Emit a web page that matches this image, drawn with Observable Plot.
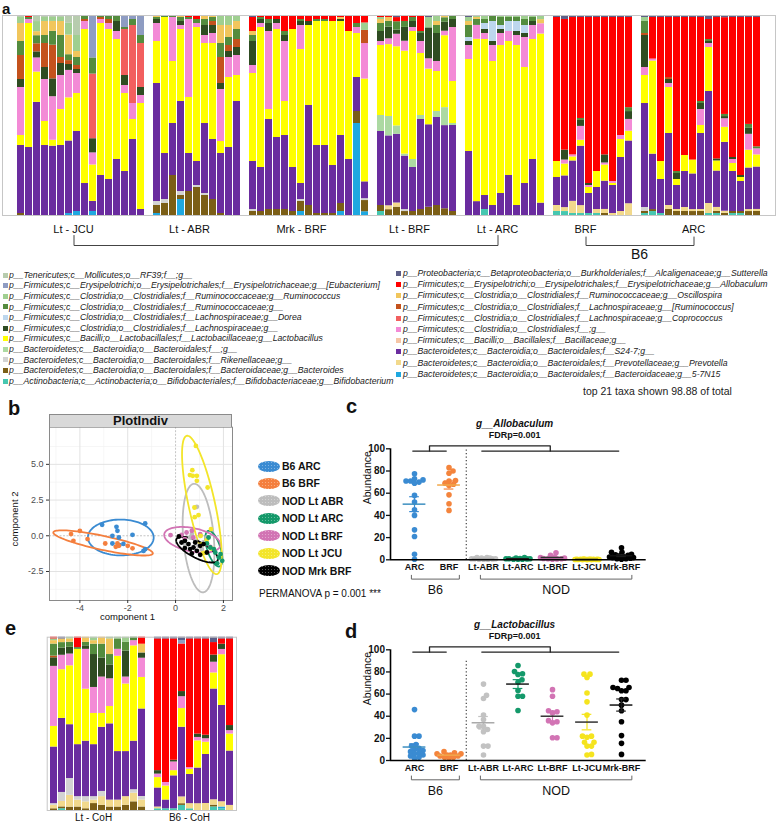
<!DOCTYPE html>
<html><head><meta charset="utf-8">
<script src="https://cdn.jsdelivr.net/npm/d3@7"></script>
<script src="https://cdn.jsdelivr.net/npm/@observablehq/plot@0.6"></script>
<style>
html,body{margin:0;padding:0;background:#fff}
#root{position:relative;width:778px;height:822px;overflow:hidden;font-family:"Liberation Sans",Arial,Helvetica,sans-serif;color:#111}
.layer{position:absolute;left:0;top:0;width:778px;height:822px}
.layer svg{background:transparent!important;overflow:visible}
.t{position:absolute;white-space:nowrap}
.sw{position:absolute}
</style></head><body><div id="root"></div>
<script>
const W = 778, H = 822;
const root = document.getElementById("root");

// ---------------- taxa (stack order bottom -> top) ----------------
const taxaKeys = ["Bi","Nf","Bd","Pv","Rk","S","Bf","Bc","L","C","Lg","Cp","Do","Rr","Rg","O","Ru","A","Eu","Su","Te"];
const taxaColor = {Bi:"#46c7b0",Nf:"#1fa8e0",Bd:"#7b5e16",Pv:"#f2d98c",Rk:"#d3d3d3",S:"#6a2c9f",Bf:"#acd9a2",Bc:"#f6c6a6",
  L:"#ffff00",C:"#f38ad6",Lg:"#2f4c22",Cp:"#f25f5f",Do:"#bdd7ee",Rr:"#c4521d",Rg:"#548c3e",O:"#f1c65c",Ru:"#9fcf90",
  A:"#ff0000",Eu:"#8e9cc2",Su:"#5d5f88",Te:"#b7ccae"};
const taxaName = {
  Te:"p__Tenericutes;c__Mollicutes;o__RF39;f__;g__",
  Eu:"p__Firmicutes;c__Erysipelotrichi;o__Erysipelotrichales;f__Erysipelotrichaceae;g__[Eubacterium]",
  Ru:"p__Firmicutes;c__Clostridia;o__Clostridiales;f__Ruminococcaceae;g__Ruminococcus",
  Rg:"p__Firmicutes;c__Clostridia;o__Clostridiales;f__Ruminococcaceae;g__",
  Do:"p__Firmicutes;c__Clostridia;o__Clostridiales;f__Lachnospiraceae;g__Dorea",
  Lg:"p__Firmicutes;c__Clostridia;o__Clostridiales;f__Lachnospiraceae;g__",
  L:"p__Firmicutes;c__Bacilli;o__Lactobacillales;f__Lactobacillaceae;g__Lactobacillus",
  Bf:"p__Bacteroidetes;c__Bacteroidia;o__Bacteroidales;f__;g__",
  Rk:"p__Bacteroidetes;c__Bacteroidia;o__Bacteroidales;f__Rikenellaceae;g__",
  Bd:"p__Bacteroidetes;c__Bacteroidia;o__Bacteroidales;f__Bacteroidaceae;g__Bacteroides",
  Bi:"p__Actinobacteria;c__Actinobacteria;o__Bifidobacteriales;f__Bifidobacteriaceae;g__Bifidobacterium",
  Su:"p__Proteobacteria;c__Betaproteobacteria;o__Burkholderiales;f__Alcaligenaceae;g__Sutterella",
  A:"p__Firmicutes;c__Erysipelotrichi;o__Erysipelotrichales;f__Erysipelotrichaceae;g__Allobaculum",
  O:"p__Firmicutes;c__Clostridia;o__Clostridiales;f__Ruminococcaceae;g__Oscillospira",
  Rr:"p__Firmicutes;c__Clostridia;o__Clostridiales;f__Lachnospiraceae;g__[Ruminococcus]",
  Cp:"p__Firmicutes;c__Clostridia;o__Clostridiales;f__Lachnospiraceae;g__Coprococcus",
  C:"p__Firmicutes;c__Clostridia;o__Clostridiales;f__;g__",
  Bc:"p__Firmicutes;c__Bacilli;o__Bacillales;f__Bacillaceae;g__",
  S:"p__Bacteroidetes;c__Bacteroidia;o__Bacteroidales;f__S24-7;g__",
  Pv:"p__Bacteroidetes;c__Bacteroidia;o__Bacteroidales;f__Prevotellaceae;g__Prevotella",
  Nf:"p__Bacteroidetes;c__Bacteroidia;o__Bacteroidales;f__Bacteroidaceae;g__5-7N15"};
const legendLeft = ["Te","Eu","Ru","Rg","Do","Lg","L","Bf","Rk","Bd","Bi"];
const legendRight = ["Su","A","O","Rr","Cp","C","Bc","S","Pv","Nf"];

// ---------------- panel a bars (relative abundance %) ----------------
const ltJCU = ["Bd1 S34 L5 C24 Lg4 Rr12 Rg7 O9 Ru3 Te1","S34 L62 C2 Rg1 A1","S56 L15 C7 Lg3 Rr4 Rg4 O2 Ru5 Te3",
 "S35 L12 C21 Lg6 Rr12 Rg4 O7 Ru2 Te1","S35 L3 C22 Lg9 Rr17 Rg7 O5 Ru2 Te1","S35 L18 C17 Lg6 Rr3 Rg11 O7 Ru2 Te1",
 "Nf1 S37 L22 C14 Lg3 Rr2 Rg3 O10 Ru6 Te4","Nf2 S40 L19 C10 Lg2 Rr2 Rg4 O3 Ru8 Te10","S16 L77 C4 Rr1 Rg2",
 "Nf2 S5 L18 C6 Lg7 Cp32 Rg8 Eu21","S20 L76 C2 Rr1 Rg1","S18 L75 C3 Rr2 Rg2","S28 L60 C4 Lg5 Rg3",
 "S22 L39 C4 Lg5 Cp23 Rg1 Eu6","S38 L10 C8 Cp39 Rg3 Eu2","S3 L53 C4 Lg4 Cp22 Rg4 Eu10"];
const ltABR = ["Nf1 Bd4 Rk2 S59 L21 C9 Lg2 Rg1 O1","Bd6 Rk2 S23 L68 Rg1","Bd20 S26 L31 C22 Rg1",
 "Nf8 Bd2 Rk2 S45 L36 C2 Lg2 Rg2 O1","Bd12 S19 L28 C39 A1 Rg1","Bd14 Rk1 S12 L67 C2 A2 Rg2",
 "Bd10 Rk1 S35 L40 C4 Lg5 Rg3 O2","Bd8 S30 L48 C5 Lg4 Rr2 Rg2 O1","Bd1 S30 L6 C26 Lg3 Rr13 Rg7 O9 Ru5",
 "S34 L35 C10 Lg3 Rr3 Rg4 O6 Ru5","S57 L13 C10 Lg4 Rr4 Rg5 O4 Ru3"];
const mrkBRF = ["Bd2 Rk1 S24 L44 C4 Lg12 Rg3 O2 A7 Su1","Bd2 S22 L70 C2 Lg2 Rg1 A1","Bd3 S45 L5 C39 Lg4 Rg2 A2",
 "Bd3 S36 L54 C3 Lg2 A2","Bd3 S37 L17 C30 Lg3 Rg2 A8","Bd2 S22 L69 A7","Nf2 Bd5 Rk1 S8 L67 C12 Lg2 Rg1 A2",
 "Bd5 S50 L40 Lg2 A3","Bd1 S34 L62 Rg1 A2","Bd1 S34 L62 Rg1 A2","Bd1 S24 L72 A3","Nf2 Bd4 S34 L57 Lg1 O1 A1",
 "S28 L64 A8","Nf46 Bd6 S17 L22 C3 Rg2 A4","Nf2 Bd6 Rk1 S9 L55 C19 Rr7 A4 Ru4"];
const ltBRF = ["Bi2 Bd3 S37 Bf8 L35 C2 Lg5 Rg4 O2 A1 Ru1","Bd3 Pv2 S36 Bf10 L37 C3 Lg6 Rg3 O2 A1",
 "Bd4 Pv2 S33 Bf4 L38 C6 Lg2 Rg4 A2 Su1","Bd2 Rk1 S27 Bf1 L52 C5 Lg7 Rg3 A3","Bd2 S22 Bf4 L64 C2 Lg3 Rg2 A1",
 "Bd3 S45 Bf2 L31 C6 Lg4 Rg1 A8","Bd4 S40 L27 C5 Lg15 Ru5 Su1","Bd5 S44 Bf3 L20 C5 Lg14 Rg4 O2 Ru3",
 "Bd3 S37 Bf8 L32 C2 Lg4 Rg2 O1","Bd2 S43 Bf1 L21 C27 Lg4 Rg2"];
const ltARC = ["S32 L46 C7 Lg2 Do2 Rg6 O2 Ru2 Su1","S7 L82 C7 Rg3 O1 Ru1","Bi3 S7 L78 C3 Lg2 Do3 Rg2 Ru2",
 "S5 L72 C8 Do10 Lg2 Rg3","S11 L74 C6 Lg2 Rg4 Do2 Ru1","S20 L67 C5 Do5 Rg2 Ru1","S5 L80 C5 Do5 Lg2 Rg2 Ru1",
 "S16 L58 C15 Do4 Lg2 Rg3 Ru2","S28 L60 C7 Lg2 Rg2 Ru1","S6 L82 C5 O2 Ru2"];
const b6BRF = ["Bi2 Pv3 S14 L8 A72 Su1","Bi2 Pv2 S16 L6 C2 Lg5 A66 Su2","Bi1 Pv6 S20 L2 C1 A68 Su1",
 "Bi1 Pv4 S30 L3 C7 Lg3 Rg1 A51 Su1","Bi1 S10 L3 C1 Lg1 A83 Su1","Bi1 Pv2 S11 L8 A77 Su1",
 "Bd1 Pv2 S14 L8 C1 Lg4 A68 Su1","Pv1 S14 L1 C1 A82 Su1","Pv2 S27 L9 C2 A59 Su1","Pv6 S32 L5 C6 Lg4 Rg2 A46 Su1"];
const b6ARC = ["Bi1 Bd1 Rk2 S52 L14 C4 Lg16 Rr1 Rg6 Ru2 Su1","Bi2 Bd1 S28 L47 C1 A21 Su1","Bi1 S17 L9 A72 Su1",
 "Bd3 Pv2 S36 L23 C2 Lg2 Rr1 A30 Su1","Bd2 Pv1 S12 L3 Lg3 Rg1 A77 Su1","Bd2 Pv2 S18 L8 A69 Su1",
 "Bd2 Pv1 S18 L7 A72 Su1","Bd2 Pv1 S38 L4 C8 Lg3 Rg1 A42 Su1","Bi1 Pv5 S56 L22 C2 Lg1 Rg1 A10 Su2",
 "Bi1 Bd1 Pv2 S18 L5 Lg1 A70 Su1","Bd1 Pv1 S32 L7 C4 Lg1 Rg1 A45 Su1","Bi1 Bd1 S20 L4 C2 Lg1 A70 Su1",
 "Bi1 Bd1 S15 L2 Lg1 A79 Su1","Bd2 Pv1 S21 L9 C8 Lg3 Rg2 A54 Su1","Bd2 Pv1 S21 L6 C3 Rg1 A64 Su1"];
// ---------------- panel e bars ----------------
const ltCoH = ["Bd1 Pv2 Rk1 S33 L12 C35 Lg5 Rr1 Rg7 O2 A1 Ru1","Bi1 Bd1 Pv3 Rk5 S41 L27 C8 Lg4 Rg3 O2 Su1",
 "Bd2 Pv7 Rk10 S32 L35 C7 Lg4 Rg3 O2 Ru1","Bd2 Pv4 Rk2 S30 L55 Rg1 A6","Bd1 Pv4 Rk3 S32 L30 C23 Lg2 O3 Rg2",
 "Bd4 Pv2 Rk2 S30 L18 C15 Lg19 Rg6 O2 Ru2","Bd3 Pv5 Rk3 S37 L8 C21 Lg11 Rg8 O4","Bd2 Pv4 S44 L10 C16 Lg8 Rg6 O9 Ru1",
 "Bd2 Pv4 S28 L55 C4 Rg6 Ru1","Bd3 Pv5 S26 L39 C4 Lg15 Rg5 Ru3","Bd5 Pv5 Rk2 S28 L55 C3 Rg2",
 "Bd2 Pv4 Rk2 S50 L18 C11 Lg3 O5 A4"];
const b6CoH = ["Bi1 Pv1 S11 L6 C2 Lg2 A76 Su1","Bi1 S5 L8 C2 A82 Su1","Bi1 S19 L3 C5 Lg1 A70 Su1",
 "Bi3 Bd1 Pv4 S41 L11 C7 Lg3 A28 Eu2 Su2","Bi1 Pv3 S17 L3 C1 A75 Su1","Pv4 S21 L16 C2 Lg2 A56 Su1",
 "Pv4 S28 L7 C2 Lg2 A55 Su1","Bi2 Bd1 Pv3 S62 L9 C6 Lg4 A7 Su3","Bi1 Nf1 Pv3 S55 L29 C3 Lg3 A3 Su1",
 "Pv3 S32 L10 C2 Lg3 A51 Su1"];

// ---------------- panel b (PCA) ----------------
const pcaNames = ["B6 ARC","B6 BRF","NOD Lt ABR","NOD Lt ARC","NOD Lt BRF","NOD Lt JCU","NOD Mrk BRF"];
const pcaColors = ["#3a8bd2","#f47f3e","#bdbdbd","#14996a","#d274b4","#f3e52a","#000000"];
const pcB6ARC = [[-3.07,0.77],[-2.47,0.63],[-2.43,0.35],[-2.64,0.0],[-2.37,-0.12],[-1.8,0.07],[-1.27,0.86],[-2.64,-0.54],[-1.27,-0.94],[-1.34,-1.06],[-2.35,-0.65],[-2.18,-0.57]];
const pcB6BRF = [[-4.37,0.12],[-4.0,0.35],[-4.27,-0.35],[-3.68,-0.23],[-2.94,-0.54],[-2.43,-0.54],[-2.37,-0.7],[-2.0,-0.7],[-1.8,-0.88],[-2.5,-0.77]];
const pcLtABR = [[0.89,2.03],[1.03,0.0],[0.82,-0.35],[0.61,-0.12],[1.17,-0.47],[0.96,-0.7],[1.31,-0.12],[0.46,-0.58],[1.1,-0.93],[0.68,0.12]];
const pcLtARC = [[1.31,-0.54],[1.45,-0.82],[1.66,-1.17],[1.81,-1.52],[1.95,-1.75],[1.38,-0.12],[1.6,-0.93],[1.88,-1.28],[1.74,-1.93]];
const pcLtBRF = [[-0.21,0.05],[0.46,0.23],[0.74,-0.12],[1.03,0.12],[1.31,-0.58],[0.39,-0.23],[0.68,0.35],[1.45,-0.77],[0.25,0.07]];
const pcLtJCU = [[0.85,6.29],[0.7,4.59],[0.72,4.2],[0.89,4.2],[0.6,4.25],[0.89,3.85],[1.34,3.38],[0.79,1.98],[0.96,1.45],[0.8,1.3],[1.48,0.47],[1.05,0.0],[1.3,-0.3],[1.1,-0.6],[1.5,-0.9],[1.2,-1.2]];
const pcMrkBRF = [[0.14,-0.05],[0.25,-0.47],[0.39,-0.35],[0.61,-0.93],[0.75,-0.82],[0.89,-1.05],[1.03,-0.7],[1.17,-0.58],[1.31,-1.17],[0.54,-0.58],[0.82,-0.47],[0.68,-1.24],[1.03,-1.33],[0.39,-0.86]];
const pcPoints = [pcB6ARC,pcB6BRF,pcLtABR,pcLtARC,pcLtBRF,pcLtJCU,pcMrkBRF];
// ellipse: centre x, centre y, axis-1 vector, axis-2 vector (component units)
const pcEllipses = [[-2.29,-0.12,1.37,0.1,-0.12,1.25],[-3.03,-0.5,2.08,-0.74,0.06,0.48],[0.96,-0.16,-0.18,3.8,0.64,0],
 [1.6,-0.9,-0.22,1.25,0.28,0.05],[0.7,-0.28,1.17,-0.41,0.1,0.8],[1.1,2.16,-0.63,4.84,0.54,0.19],[0.9,-0.97,0.86,-0.75,0.16,0.5]];

// ---------------- panels c, d ----------------
const cdCats = ["ARC","BRF","Lt-ABR","Lt-ARC","Lt-BRF","Lt-JCU","Mrk-BRF"];
const cdColors = ["#3a8bd2","#f4843c","#c2c2c2","#14996a","#d274b4","#f5e41e","#000000"];
const cdMeanColors = ["#3d8fc0","#f2a84a","#aaaaaa","#1a1a1a","#333333","#333333","#111111"];
const cdGroups = [{label:"B6",from:0,to:1},{label:"NOD",from:2,to:6}];
const alloARC = [77.5,72,71,73,70,69,71,58,52,45,40,27,21,5,0.5];
const alloBRF = [83,80,78,71.5,71,69,67,68,58.5,50.5,44.5];
const alloLtABR = [1,1,2,1.5,0.5,0.5,1,2,1.5,1,0.8,0.5];
const alloLtARC = [0.5,1,1.5,0.5,1,2,0.5,1,0.8,1.2];
const alloLtBRF = [6.3,4,2.5,1,1.5,0.5,1,2,0.8,1.2];
const alloLtJCU = [0.3,0.5,0.2,0.4,0.6,0.3,0.5,0.2,0.4,0.3,0.5,0.2,0.3,0.4,0.5];
const alloMrkBRF = [10.8,6.8,6.8,5,4.5,3.5,3,2.5,2,2,1.5,1,1,0.5,4];
const lactoARC = [46,22,22,14.5,13,11,10,9,8,7,6,5,4,3,2];
const lactoBRF = [8,7,6,5,5,4,4,3,3,2,6];
const lactoLtABR = [69,56,59,41,37,31,28,31,26,13,13,5];
const lactoLtARC = [85.8,80.4,78.3,77.7,72.9,70.7,63.2,58.1,58.1,45.2];
const lactoLtBRF = [64,58,45,43,44,35,34,36,20.5,20.5];
const lactoLtJCU = [78,78,75,61,53,41,22,22,21,16.5,16.5,13,13,5,5.5];
const lactoMrkBRF = [72.5,72.5,66,66,65,63,63,55,55,50,45,35,22.5,15.5,5.5];

// ================= helpers =================
function txt(s, x, base, size, o = {}) {
  const d = document.createElement("div"); d.className = "t"; d.textContent = s;
  d.style.fontSize = size + "px"; d.style.lineHeight = size + "px";
  d.style.left = x + "px"; d.style.top = (base - 0.8465 * size) + "px";
  if (o.anchor === "middle") d.style.transform = "translateX(-50%)";
  if (o.bold) d.style.fontWeight = "bold";
  if (o.italic) d.style.fontStyle = "italic";
  if (o.color) d.style.color = o.color;
  root.appendChild(d); return d;
}
function rtxt(s, cx, cy, size) {
  const d = document.createElement("div"); d.className = "t"; d.textContent = s;
  d.style.fontSize = size + "px"; d.style.lineHeight = size + "px";
  d.style.left = cx + "px"; d.style.top = cy + "px";
  d.style.transform = "translate(-50%,-50%) rotate(-90deg)";
  root.appendChild(d);
}
function layer(svg) { const d = document.createElement("div"); d.className = "layer"; d.appendChild(svg); root.appendChild(d); }
function parseBar(s) { const o = {}; s.trim().split(/\s+/).forEach(t => { const m = t.match(/^([A-Za-z]+)([\d.]+)$/); o[m[1]] = +m[2]; }); return o; }
function pixelPlot(marks) {
  return Plot.plot({width: W, height: H, margin: 0, style: {background: "transparent"},
    x: {domain: [0, W], range: [0, W], axis: null}, y: {domain: [0, H], range: [0, H], axis: null}, marks});
}

function stackPanel(groups, left, right, top, bottom) {
  const slots = [], rows = [], spans = [];
  groups.forEach(([name, bars], gi) => {
    if (gi) slots.push("gap" + gi);
    const ids = bars.map((s, bi) => {
      const id = name + "#" + bi; slots.push(id);
      const o = parseBar(s);
      taxaKeys.forEach(k => { if (o[k]) rows.push({sample: id, taxon: k, value: o[k]}); });
      return id;
    });
    spans.push({name, first: ids[0], last: ids[ids.length - 1]});
  });
  const plot = Plot.plot({width: W, height: H, marginLeft: left, marginRight: W - right, marginTop: top, marginBottom: H - bottom,
    style: {background: "transparent"},
    x: {domain: slots, padding: 0.18, axis: null}, y: {axis: null},
    color: {domain: taxaKeys, range: taxaKeys.map(k => taxaColor[k])},
    marks: [
      Plot.barY(rows, Plot.stackY({x: "sample", y: "value", fill: "taxon", offset: "normalize"})),
      Plot.frame({stroke: "#c6c6c6"})
    ]});
  const sx = plot.scale("x");
  const cx = id => sx.apply(id) + sx.bandwidth / 2;
  spans.forEach(s => { s.cx = (cx(s.first) + cx(s.last)) / 2; });
  return {plot, spans};
}

function swarm(vals, ppuY, ppuX, r) {
  const idx = vals.map((v, i) => i).sort((a, b) => vals[a] - vals[b]);
  const placed = [], off = new Array(vals.length).fill(0);
  const cand = [0]; for (let k = 1; k <= 24; k++) cand.push(k * 0.5, -k * 0.5);
  const minD = 2 * r * 0.78;
  for (const i of idx) {
    const y = vals[i] * ppuY;
    let best = 0, bestD = -1, chosen = null;
    for (const c of cand) {
      let dmin = Infinity;
      for (const p of placed) { const d = Math.hypot(p.x - c, p.y - y); if (d < dmin) dmin = d; }
      if (dmin >= minD) { chosen = c; break; }
      if (dmin > bestD) { bestD = dmin; best = c; }
    }
    const c = chosen === null ? best : chosen;
    placed.push({x: c, y}); off[i] = c / ppuX;
  }
  return off;
}

function dotPanel(vals, top, bottom, title, dotTop) {
  const left = 390, right = 645.7, x0 = -0.696, x1 = 6.716;
  const ppuY = (bottom - top) / 100, ppuX = (right - left) / (x1 - x0);
  const u = px => px / ppuY;
  const dots = [], stats = [];
  vals.forEach((arr, g) => {
    const off = swarm(arr, ppuY, ppuX, 2.8);
    arr.forEach((v, i) => dots.push({g, x: g + off[i], v, c: cdColors[g]}));
    const m = d3.mean(arr), s = d3.deviation(arr) / Math.sqrt(arr.length);
    stats.push({g, m, lo: m - s, hi: m + s, mc: cdMeanColors[g], ec: g === 6 ? "#222" : cdColors[g]});
  });
  const yLo = 100 - u(2.3), yHi = 100 + u(3);
  const cmp = cdGroups.map(gr => { const a = gr.from - 0.05, b = gr.to - 0.08; return {a, b, mid: (a + b) / 2}; });
  const topLines = [];
  cmp.forEach((c, i) => { topLines.push({k: "h" + i, x: c.a, y: yLo}, {k: "h" + i, x: c.b, y: yLo}); });
  topLines.push({k: "j", x: cmp[0].mid, y: yLo}, {k: "j", x: cmp[0].mid, y: yHi}, {k: "j", x: cmp[1].mid, y: yHi}, {k: "j", x: cmp[1].mid, y: yLo});
  const yb1 = -u(15.5), yb2 = -u(19.3);
  const botLines = cdGroups.flatMap((gr, i) => { const a = gr.from - 0.09, b = gr.to + 0.3;
    return [{k: i, x: a, y: yb1}, {k: i, x: a, y: yb2}, {k: i, x: b, y: yb2}, {k: i, x: b, y: yb1}]; });
  const botLabels = cdGroups.map(gr => ({x: (gr.from - 0.09 + gr.to + 0.3) / 2, y: -u(30.5), t: gr.label}));
  return Plot.plot({width: W, height: H, marginLeft: left, marginRight: W - right, marginTop: top, marginBottom: H - bottom,
    style: {background: "transparent", fontFamily: "Liberation Sans, Arial, sans-serif"},
    x: {domain: [x0, x1], axis: null}, y: {domain: [0, 100], axis: null},
    marks: [
      Plot.ruleX([1.5], {y1: 0, y2: dotTop, stroke: "#333", strokeDasharray: "1.3,2.2", strokeWidth: 1.1}),
      Plot.line(topLines, {x: "x", y: "y", z: "k", stroke: "#222", strokeWidth: 1.3}),
      Plot.line(botLines, {x: "x", y: "y", z: "k", stroke: "#666", strokeWidth: 1}),
      Plot.text(botLabels, {x: "x", y: "y", text: "t", fontSize: 12.5, fill: "#111"}),
      Plot.text([title], {x: 2.9, y: 100 + u(24.7), fontSize: 10, fontWeight: "bold", fontStyle: "italic"}),
      Plot.text(["FDRp=0.001"], {x: 2.9, y: 100 + u(13.3), fontSize: 9, fontWeight: "bold"}),
      Plot.dot(dots, {x: "x", y: "v", r: 2.8, fill: "c"}),
      Plot.ruleX(stats, {x: "g", y1: "lo", y2: "hi", stroke: "ec", strokeWidth: 1.2}),
      Plot.ruleY(stats, {y: "lo", x1: d => d.g - 0.14, x2: d => d.g + 0.14, stroke: "ec", strokeWidth: 1.2}),
      Plot.ruleY(stats, {y: "hi", x1: d => d.g - 0.14, x2: d => d.g + 0.14, stroke: "ec", strokeWidth: 1.2}),
      Plot.ruleY(stats, {y: "m", x1: d => d.g - 0.33, x2: d => d.g + 0.33, stroke: "mc", strokeWidth: 1.5}),
      Plot.ruleY([0], {stroke: "#000", strokeWidth: 1.6}),
      Plot.ruleX([x0], {y1: 0, y2: 100, stroke: "#000", strokeWidth: 1.6}),
      Plot.axisY({ticks: [0, 20, 40, 60, 80, 100], tickSize: 4, tickPadding: 1.5, fontSize: 10, fontWeight: "bold", label: null, strokeWidth: 1.3}),
      Plot.axisX({ticks: d3.range(7), tickFormat: i => cdCats[i], tickSize: 0, tickPadding: 4, fontSize: 9, fontWeight: "bold", label: null}),
      Plot.text(["Abundance"], {frameAnchor: "left", dx: -23, rotate: -90, fontSize: 10.5})
    ]});
}

// ================= panel a =================
const groupsA = [["Lt - JCU", ltJCU], ["Lt - ABR", ltABR], ["Mrk - BRF", mrkBRF], ["Lt - BRF", ltBRF], ["Lt - ARC", ltARC], ["BRF", b6BRF], ["ARC", b6ARC]];
const pa = stackPanel(groupsA, 2, 775, 15, 215);
layer(pa.plot);
const gx = pa.spans.map(s => s.cx - 7);
layer(pixelPlot([
  Plot.line([[gx[0], 235], [gx[0], 245], [gx[4], 245], [gx[4], 235]], {stroke: "#444", strokeWidth: 1}),
  Plot.line([[gx[5], 236.5], [gx[5], 245], [gx[6], 245], [gx[6], 236.5]], {stroke: "#444", strokeWidth: 1})
]));
pa.spans.forEach((s, i) => txt(s.name, gx[i], 233.3, 11, {anchor: "middle"}));
txt("B6", (gx[5] + gx[6]) / 2, 259.3, 14, {anchor: "middle"});

// legend a
function legendCol(keys, sqX, textX, y0, dy) {
  keys.forEach((k, i) => {
    const cy = y0 + dy * i;
    const sq = document.createElement("div"); sq.className = "sw";
    Object.assign(sq.style, {left: sqX + "px", top: (cy - 2.5) + "px", width: "5px", height: "5px", background: taxaColor[k]});
    root.appendChild(sq);
    txt(taxaName[k], textX, cy + 3.1, 8.7, {italic: true, color: "#222"});
  });
}
legendCol(legendLeft, 3, 9, 275, 10.6);
legendCol(legendRight, 396, 403, 273.3, 11.2);
txt("top 21 taxa shown 98.88 of total", 583, 394.5, 10.5, {color: "#222"});

// ================= panel b =================
const pcRows = [], ellRows = [];
pcPoints.forEach((pts, g) => pts.forEach(([x, y]) => pcRows.push({g, x, y, c: pcaColors[g]})));
pcEllipses.forEach(([cx, cy, ux, uy, vx, vy], g) => {
  for (let k = 0; k < 96; k++) { const t = 2 * Math.PI * k / 96;
    ellRows.push({g, c: pcaColors[g], x: cx + ux * Math.cos(t) + vx * Math.sin(t), y: cy + uy * Math.cos(t) + vy * Math.sin(t)}); }
});
const drawOrder = [2, 4, 5, 3, 6, 0, 1];
const pcSorted = drawOrder.flatMap(g => pcRows.filter(d => d.g === g));
layer(Plot.plot({width: W, height: H, marginLeft: 49, marginRight: W - 232, marginTop: 426.7, marginBottom: H - 600,
  style: {background: "transparent", fontFamily: "Liberation Sans, Arial, sans-serif"},
  x: {domain: [-5.27, 2.38], axis: null}, y: {domain: [-4.53, 7.6], axis: null},
  marks: [
    Plot.ruleX([-5, -3, -1, 1], {stroke: "#f0f0f0", strokeWidth: 0.6}),
    Plot.ruleY([-3.75, -1.25, 1.25, 3.75, 6.25], {stroke: "#f0f0f0", strokeWidth: 0.6}),
    Plot.ruleX([-4, -2, 2], {stroke: "#e2e2e2", strokeWidth: 1}),
    Plot.ruleY([-2.5, 2.5, 5], {stroke: "#e2e2e2", strokeWidth: 1}),
    Plot.ruleX([0], {stroke: "#c4c4c4", strokeWidth: 1, strokeDasharray: "2,1.5"}),
    Plot.ruleY([0], {stroke: "#c4c4c4", strokeWidth: 1, strokeDasharray: "2,1.5"}),
    Plot.line(ellRows, {x: "x", y: "y", z: "g", stroke: "c", strokeWidth: 1.8, curve: "linear-closed"}),
    Plot.dot(pcSorted, {x: "x", y: "y", r: 2.4, fill: "c"}),
    Plot.frame({stroke: "#8a8a8a"}),
    Plot.axisX({ticks: [-4, -2, 0, 2], tickFormat: d => String(d), tickSize: 3, tickPadding: 1, fontSize: 9, fill: "#4d4d4d", stroke: "#333", label: null}),
    Plot.axisY({ticks: [-2.5, 0, 2.5, 5], tickFormat: d => d.toFixed(1), tickSize: 3, tickPadding: 3, fontSize: 9, fill: "#4d4d4d", stroke: "#333", label: null})
  ]}));
const strip = document.createElement("div");
Object.assign(strip.style, {position: "absolute", left: "49px", top: "414.3px", width: "183px", height: "12.6px", boxSizing: "border-box",
  background: "#d9d9d9", border: "1px solid #8a8a8a", borderBottom: "none"});
root.appendChild(strip);
txt("PlotIndiv", 140.5, 425, 13, {anchor: "middle", bold: true});
rtxt("component 2", 15, 519, 9.5);
txt("component 1", 127.5, 620.5, 9.5, {anchor: "middle"});
pcaNames.forEach((n, i) => {
  const cy = 466 + 17.45 * i;
  const e = document.createElement("div"); e.className = "sw";
  Object.assign(e.style, {left: "258px", top: (cy - 5.5) + "px", width: "22px", height: "11px", borderRadius: "50%",
    background: pcaColors[i], backgroundImage: "radial-gradient(rgba(255,255,255,0.35) 0.6px, transparent 0.9px)", backgroundSize: "3px 3px"});
  root.appendChild(e);
  txt(n, 282, cy + 3.8, 10.5, {bold: true});
});
txt("PERMANOVA p = 0.001 ***", 259, 597.3, 10, {});

// ================= panels c, d =================
layer(dotPanel([alloARC, alloBRF, alloLtABR, alloLtARC, alloLtBRF, alloLtJCU, alloMrkBRF], 448.3, 559.3, "g__Allobaculum", 100));
layer(dotPanel([lactoARC, lactoBRF, lactoLtABR, lactoLtARC, lactoLtBRF, lactoLtJCU, lactoMrkBRF], 649.3, 760, "g__Lactobacillus", 90));

// ================= panel e =================
const pe = stackPanel([["Lt - CoH", ltCoH], ["B6 - CoH", b6CoH]], 46.7, 236, 636.7, 810);
layer(pe.plot);
pe.spans.forEach(s => txt(s.name, s.cx - 4, 821.5, 10, {anchor: "middle"}));

// panel letters
txt("a", 2, 13.5, 15, {bold: true});
txt("b", 8, 415, 20, {bold: true});
txt("c", 346, 413, 20, {bold: true});
txt("d", 345, 638, 20, {bold: true});
txt("e", 5, 635, 20, {bold: true});
</script></body></html>
